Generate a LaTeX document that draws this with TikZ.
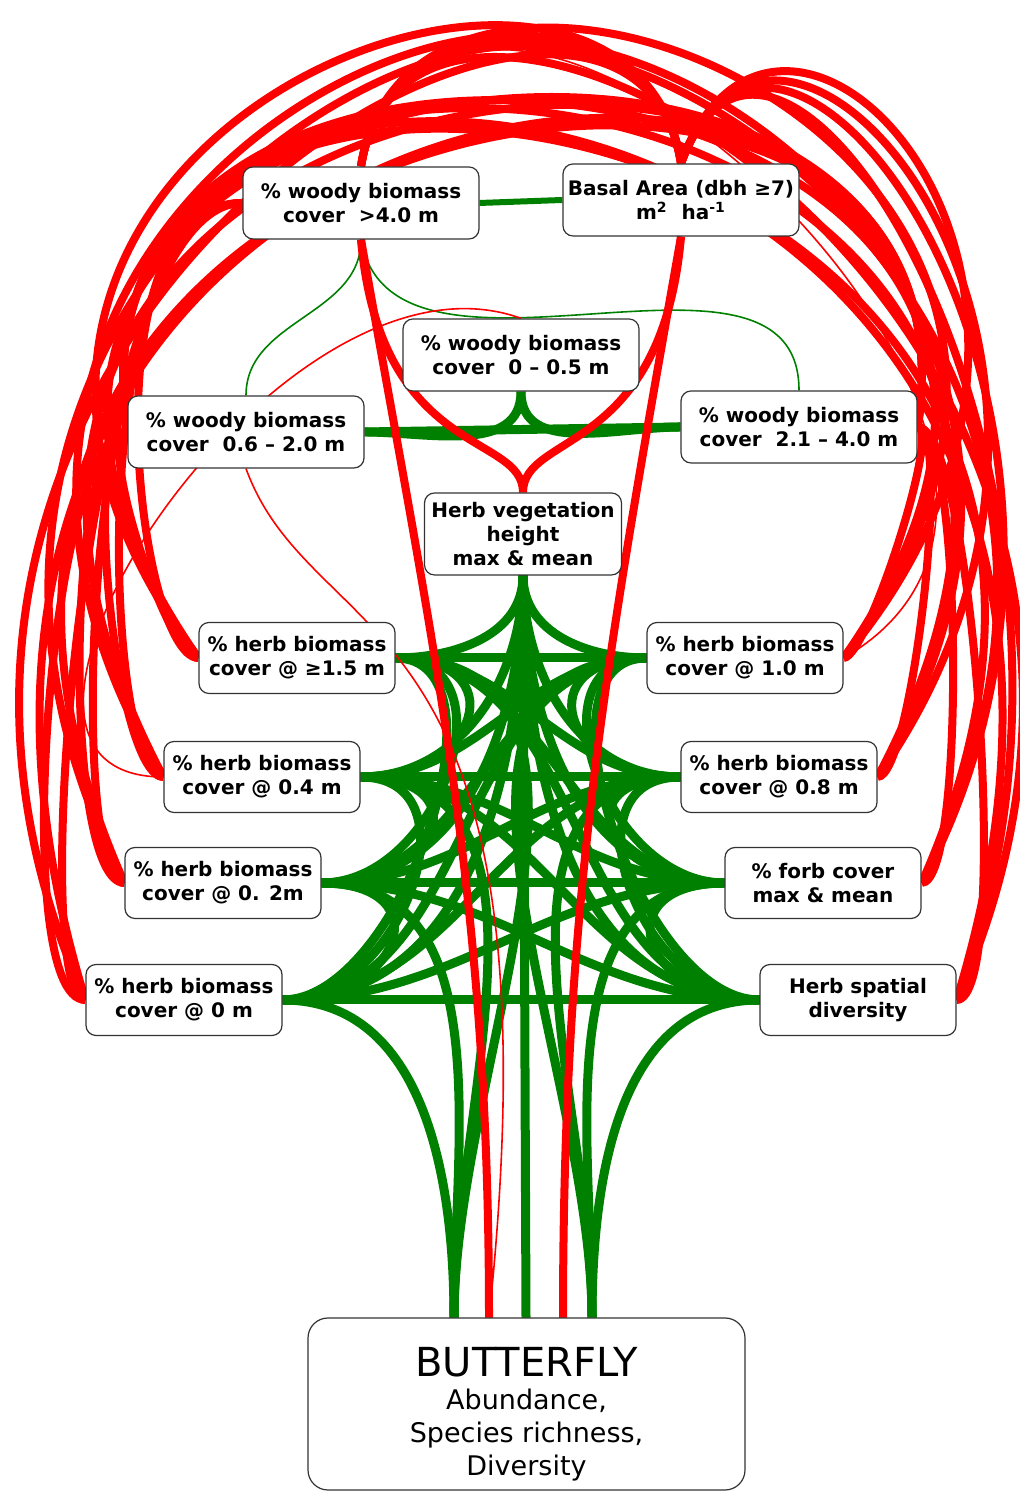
\documentclass[tikz,border=0pt]{standalone}
\usepackage{fontspec}
\setmainfont{DejaVu Sans}
\usetikzlibrary{backgrounds}
\definecolor{corpos}{HTML}{008000}
\definecolor{corneg}{HTML}{FF0000}
\begin{document}
\begin{tikzpicture}[x=0.5pt,y=0.5pt,
  varbox/.style={draw=black!80,fill=white,rounded corners=5pt,align=center,
    font=\bfseries\fontsize{10}{12}\selectfont,inner sep=1pt,line width=0.6pt},
  woodybox/.style={varbox,minimum width=118pt,minimum height=36pt},
  herbbox/.style={varbox,minimum width=98pt,minimum height=35.5pt},
  poslink/.style={corpos,line width=4.5pt},
  neglink/.style={corneg,line width=4pt},
  posthin/.style={corpos,line width=0.8pt},
  negthin/.style={corneg,line width=0.8pt}]
\useasboundingbox (0,0) rectangle (1019,1492);
\node[woodybox] (W4) at (361,1289) {\% woody biomass\\cover\ \ >4.0 m};
\node[woodybox] (BA) at (681,1292) {Basal Area (dbh ≥7)\\m\textsuperscript{2}\ \ ha\textsuperscript{-1}};
\node[woodybox] (W05) at (521,1137) {\% woody biomass\\cover\ \ 0 – 0.5 m};
\node[woodybox] (W06) at (246,1060) {\% woody biomass\\cover\ \ 0.6 – 2.0 m};
\node[woodybox] (W21) at (799,1065) {\% woody biomass\\cover\ \ 2.1 – 4.0 m};
\node[varbox,minimum width=98.5pt,minimum height=41pt] (HV) at (523,958)
  {Herb vegetation\\height\\max \& mean};
\node[herbbox] (H15) at (297,834) {\% herb biomass\\cover @ ≥1.5 m};
\node[herbbox] (H10) at (745,834) {\% herb biomass\\cover @ 1.0 m};
\node[herbbox] (H04) at (262,715) {\% herb biomass\\cover @ 0.4 m};
\node[herbbox] (H08) at (779,715) {\% herb biomass\\cover @ 0.8 m};
\node[herbbox] (H02) at (223,609) {\% herb biomass\\cover @ 0. 2m};
\node[herbbox] (FC) at (823,609) {\% forb cover\\max \& mean};
\node[herbbox] (H00) at (184,492) {\% herb biomass\\cover @ 0 m};
\node[herbbox] (HS) at (858,492) {Herb spatial\\diversity};
\node[varbox,font=\fontsize{13.5}{16.5}\selectfont,rounded corners=10pt,
  minimum width=218.5pt,minimum height=86pt] (BF) at (526.5,88)
  {{\fontsize{20}{22}\selectfont\rule{0pt}{24.6pt}BUTTERFLY}\\Abundance,\\Species richness,\\Diversity};
\coordinate (bfl) at (454,174);
\coordinate (bfn1) at (489,174);
\coordinate (bfm) at (526,174);
\coordinate (bfn2) at (563,174);
\coordinate (bfr) at (592,174);
\begin{scope}[on background layer]
\foreach \l in {H15,H04,H02,H00} {
  \foreach \r in {H10,H08,FC,HS}
    \draw[poslink] (\l.east) to[out=0,in=180] (\r.west);
  \draw[poslink] (HV.south) to[out=-90,in=0] (\l.east);
  \draw[poslink] (\l.east) to[out=0,in=90] (bfl);
}
\foreach \r in {H10,H08,FC,HS} {
  \draw[poslink] (HV.south) to[out=-90,in=180] (\r.west);
  \draw[poslink] (\r.west) to[out=180,in=90] (bfr);
}
\foreach \a/\b in {H15/H04,H15/H02,H15/H00,H04/H02,H04/H00,H02/H00}
  \draw[poslink] (\a.east) to[out=0,in=0,distance=60pt] (\b.east);
\foreach \a/\b in {H10/H08,H10/FC,H10/HS,H08/FC,H08/HS,FC/HS}
  \draw[poslink] (\a.west) to[out=180,in=180,distance=60pt] (\b.west);
\draw[poslink] (HV.south) -- (bfm);
\draw[poslink,line width=3pt] (W4.east) -- (BA.west);
\draw[poslink] (W06.east) -- (W21.west);
\draw[poslink] (W05.south) to[out=-90,in=0] (W06.east);
\draw[poslink] (W05.south) to[out=-90,in=180] (W21.west);
\draw[posthin] (W4.south) to[out=-90,in=90] (W06.north);
\draw[posthin] (W4.south) to[out=-80,in=90] (W21.north);
\foreach \h/\a/\d in {H10/55/375pt,H08/62/416pt,FC/66/432pt,HS/73/501pt}
  \draw[neglink] (W06.west) to[out=99,in=\a,out distance=274pt,in distance=\d] (\h.east);
\foreach \h/\a/\d in {H15/125/375pt,H04/118/416pt,H02/114/432pt,H00/107/501pt}
  \draw[neglink] (W21.east) to[out=81,in=\a,out distance=274pt,in distance=\d] (\h.west);
\foreach \h/\a/\d in {H10/53/320pt,H08/59/330pt,FC/63/360pt,HS/66/376pt}
  \draw[neglink] (W4.north) to[out=81,in=\a,out distance=170pt,in distance=\d] (\h.east);
\foreach \h/\a/\d in {H15/127/320pt,H04/121/340pt,H02/117/360pt,H00/114/376pt}
  \draw[neglink] (BA.north) to[out=99,in=\a,out distance=170pt,in distance=\d] (\h.west);
\foreach \h/\a/\d in {H10/50/248pt,H08/55/262pt,FC/62/266pt,HS/69/272pt}
  \draw[neglink] (BA.north) to[out=70,in=\a,out distance=146pt,in distance=\d] (\h.east);
\foreach \h in {H15,H04,H02,H00} {
  \draw[neglink] (W4.west) to[out=180,in=180,out distance=80pt,in distance=30pt] (\h.west);
  \draw[neglink] (W06.west) to[out=180,in=180,looseness=0.35] (\h.west);
}
\foreach \h in {H10,H08,FC,HS}
  \draw[neglink] (W21.east) to[out=0,in=0,looseness=0.25] (\h.east);
\draw[neglink] (W4.south) to[out=-85,in=90,out distance=110pt,in distance=30pt] (HV.north);
\draw[neglink] (BA.south) to[out=-95,in=90,out distance=110pt,in distance=30pt] (HV.north);
\draw[neglink] (W4.south) to[out=-80,in=90] (bfn1);
\draw[neglink] (BA.south) to[out=-100,in=90] (bfn2);
\draw[negthin] (W06.south) to[out=-70,in=84,out distance=100pt,in distance=365pt] (bfn1);
\draw[negthin] (W05.north) to[out=160,in=180,out distance=130pt,in distance=120pt] (H04.west);
\draw[negthin] (W4.north) to[out=75,in=30,out distance=200pt,in distance=200pt] (H10.east);
\end{scope}
\end{tikzpicture}
\end{document}
